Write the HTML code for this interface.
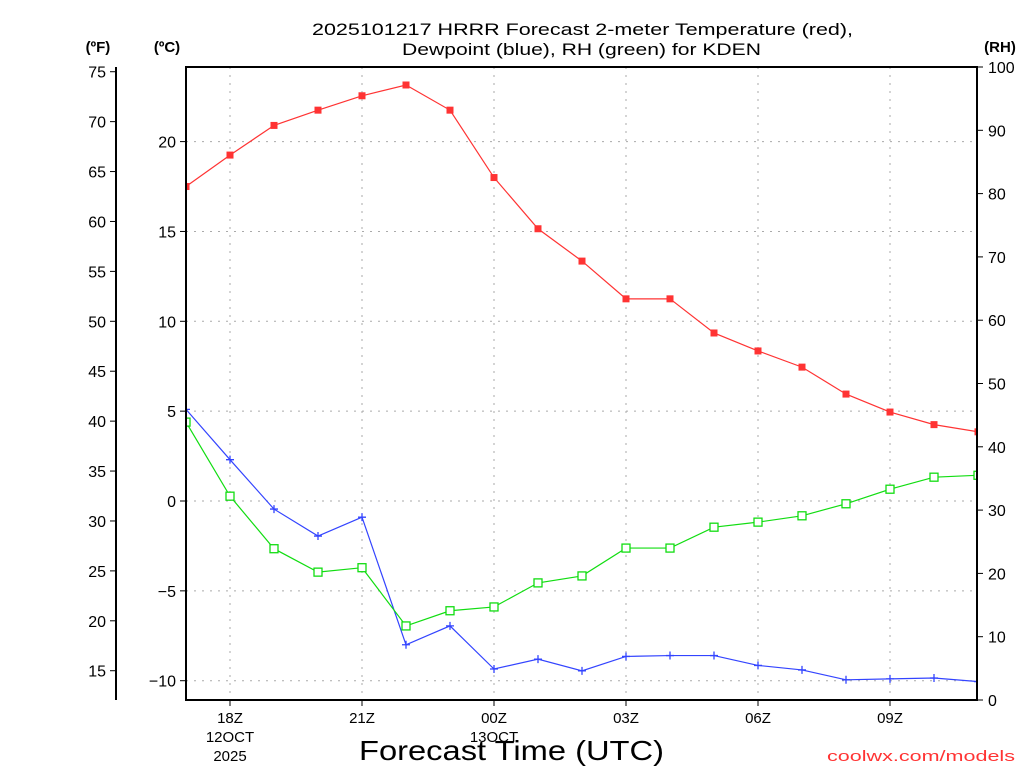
<!DOCTYPE html>
<html><head><meta charset="utf-8"><style>
html,body{margin:0;padding:0;background:#fff;}
svg{display:block;font-family:"Liberation Sans","DejaVu Sans",sans-serif;}
</style></head><body>
<svg id="chart" width="1024" height="768" viewBox="0 0 1024 768">
<defs><clipPath id="pc"><rect x="186" y="67" width="791" height="633"/></clipPath></defs>
<g font-size="17" fill="#000">
<text x="312" y="35" textLength="541" lengthAdjust="spacingAndGlyphs">2025101217 HRRR Forecast 2-meter Temperature (red),</text>
<text x="402" y="55" textLength="359" lengthAdjust="spacingAndGlyphs">Dewpoint (blue), RH (green) for KDEN</text>
</g>
<text x="98" y="52" font-size="15" font-weight="bold" text-anchor="middle">(ºF)</text>
<text x="167" y="52" font-size="15" font-weight="bold" text-anchor="middle">(ºC)</text>
<text x="1000" y="52" font-size="15" font-weight="bold" text-anchor="middle">(RH)</text>
<text x="359" y="760" font-size="28" textLength="305" lengthAdjust="spacingAndGlyphs">Forecast Time (UTC)</text>
<text x="827" y="761" font-size="15" fill="#ff3333" textLength="188" lengthAdjust="spacingAndGlyphs">coolwx.com/models</text>
<g id="grid"></g>
<g id="axes"></g>
<g id="series" clip-path="url(#pc)"></g>
<rect x="186" y="67" width="791" height="633" fill="none" stroke="#000" stroke-width="2"/>
</svg>
<script>
const hours = [17,18,19,20,21,22,23,24,25,26,27,28,29,30,31,32,33,34,35];
const tempC = [17.5,19.25,20.9,21.75,22.55,23.15,21.75,18.0,15.15,13.35,11.25,11.25,9.35,8.35,7.45,5.95,4.95,4.25,3.85];
const dewC = [5.1,2.3,-0.45,-1.95,-0.9,-8.0,-6.95,-9.35,-8.8,-9.45,-8.65,-8.6,-8.6,-9.15,-9.4,-9.95,-9.9,-9.85,-10.05];
const rh = [43.9,32.2,23.9,20.2,20.9,11.7,14.1,14.7,18.5,19.6,24.0,24.0,27.3,28.1,29.1,31.0,33.3,35.2,35.5];
const xTickHours = [18,21,24,27,30,33];
const xTickLabels = ["18Z","21Z","00Z","03Z","06Z","09Z"];
const cTicks = [-10,-5,0,5,10,15,20];
const fTicks = [15,20,25,30,35,40,45,50,55,60,65,70,75];
const rhTicks = [0,10,20,30,40,50,60,70,80,90,100];

const NS="http://www.w3.org/2000/svg";
const X=h=>186+(h-17)*44;
const YC=c=>501-c*17.97;
const YF=f=>YC((f-32)/1.8);
const YR=r=>700-r*6.33;
function mk(tag,attrs,parent,text){const e=document.createElementNS(NS,tag);for(const k in attrs)e.setAttribute(k,attrs[k]);if(text!==undefined)e.textContent=text;parent.appendChild(e);return e;}
const grid=document.getElementById('grid'),axes=document.getElementById('axes'),series=document.getElementById('series');

xTickHours.forEach((h,i)=>{
  const gl=mk('line',{x1:X(h),x2:X(h),y1:67,y2:700,stroke:'#aaa','stroke-dasharray':'2,6'},grid);
  
  
  const t=mk('line',{x1:X(h),x2:X(h),y1:700,y2:706,stroke:'#000'},axes);
  
  
  const l=mk('text',{x:X(h),y:723,'font-size':15,'text-anchor':'middle'},axes,xTickLabels[i]);
  
  
});
mk('text',{x:X(18),y:742,'font-size':15,'text-anchor':'middle'},axes,'12OCT');
mk('text',{x:X(18),y:761,'font-size':15,'text-anchor':'middle'},axes,'2025');
mk('text',{x:X(24),y:742,'font-size':15,'text-anchor':'middle'},axes,'13OCT');

cTicks.forEach(c=>{
  const y=YC(c);
  const gl=mk('line',{x1:186,x2:977,y1:y,y2:y,stroke:'#aaa','stroke-dasharray':'2,6'},grid);
  
  
  mk('line',{x1:180,x2:186,y1:y,y2:y,stroke:'#000'},axes);
  const l=mk('text',{x:176,y:y+6,'font-size':16,'text-anchor':'end'},axes,c<0?'\u2212'+(-c):String(c));
  
  
});
mk('line',{x1:116,x2:116,y1:67,y2:700,stroke:'#000','stroke-width':2},axes);
fTicks.forEach(f=>{
  const y=YF(f);
  mk('line',{x1:110,x2:116,y1:y,y2:y,stroke:'#000'},axes);
  const l=mk('text',{x:106,y:y+6,'font-size':16,'text-anchor':'end'},axes,String(f));
  
  
});
rhTicks.forEach(r=>{
  const y=YR(r);
  mk('line',{x1:977,x2:983,y1:y,y2:y,stroke:'#000'},axes);
  const l=mk('text',{x:988,y:y+6,'font-size':16,'text-anchor':'start'},axes,String(r));
  
  
});

function line(vals,yf,color,name){
  const p=mk('polyline',{points:vals.map((v,i)=>X(hours[i])+','+yf(v)).join(' '),fill:'none',stroke:color,'stroke-width':1.2},series);
  
  
}
line(tempC,YC,'#ff3333','temperature-line');
line(dewC,YC,'#3344ff','dewpoint-line');
line(rh,YR,'#11dd11','rh-line');
tempC.forEach((v,i)=>{
  const m=mk('rect',{x:X(hours[i])-3.5,y:YC(v)-3.5,width:7,height:7,fill:'#ff3333'},series);
  
  
});
dewC.forEach((v,i)=>{
  const x=X(hours[i]),y=YC(v);
  const m=mk('path',{d:`M${x-4},${y}H${x+4}M${x},${y-4}V${y+4}`,stroke:'#3344ff','stroke-width':1.3},series);
  
  
});
rh.forEach((v,i)=>{
  const m=mk('rect',{x:X(hours[i])-4,y:YR(v)-4,width:8,height:8,fill:'#fff',stroke:'#11dd11','stroke-width':1.3},series);
  
  
});
</script>
</body></html>
